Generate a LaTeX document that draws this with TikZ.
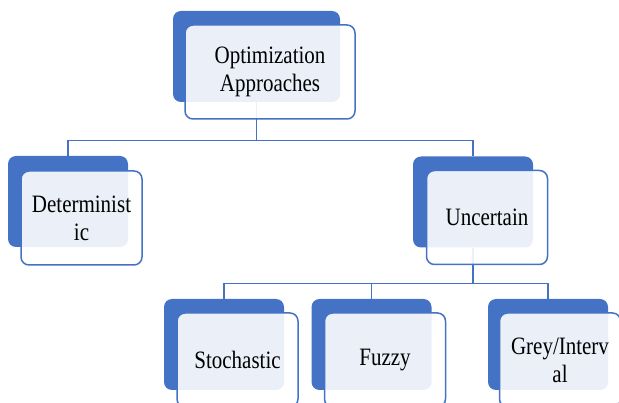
\documentclass[tikz,border=0pt]{standalone}
\usepackage{fontspec}
\setmainfont{Liberation Serif}[FakeStretch=0.84]
\begin{document}
\begin{tikzpicture}[x=1pt,y=1pt,yscale=-1,xscale=1,
	backbox/.style={draw=none,fill={rgb, 255:red, 68; green, 114; blue, 196 },rounded corners=8pt,minimum width=120pt,minimum height=91pt,inner sep=0pt},
	frontbox/.style={draw={rgb, 255:red, 68; green, 114; blue, 196 },line width=1.5,fill=white,fill opacity=0.89,text opacity=1,rounded corners=8pt,minimum width=121pt,minimum height=94pt,inner sep=0pt,align=center,font=\fontsize{25}{28}\selectfont},
	link/.style={draw={rgb, 255:red, 68; green, 114; blue, 196 },line width=1.2}]
	%uncomment if require: \path (0,403); %set diagram left start at 0, and has height of 403
	\useasboundingbox (0,0) rectangle (619,403);
	
	%Rounded Rect [back boxes] 
	\node [backbox,minimum width=167pt] (optB) at (256.5,56.5) {};
	\node [backbox] (detB) at (68,201.5) {};
	\node [backbox] (uncB) at (473,202) {};
	\node [backbox] (stoB) at (224,344.5) {};
	\node [backbox] (fuzB) at (371.5,344.5) {};
	\node [backbox] (greB) at (548,344.5) {};
	
	%Straight Lines [connectors] 
	\draw [link] (optB.south) -- ++(0,38) -| (detB.north) ;
	\draw [link] (optB.south) -- ++(0,38) -| (uncB.north) ;
	\draw [link] (uncB.south) -- ++(0,36) -| (stoB.north) ;
	\draw [link] (uncB.south) -- ++(0,36) -| (fuzB.north) ;
	\draw [link] (uncB.south) -- ++(0,36) -| (greB.north) ;
	
	%Rounded Rect [front boxes] 
	\node [frontbox,minimum width=170pt] (optF) at (270,72) {Optimization\\Approaches};
	\node [frontbox] (detF) at (81.5,218) {Determinist\\ic};
	\node [frontbox] (uncF) at (487,217.5) {Uncertain};
	\node [frontbox] (stoF) at (237.5,360) {Stochastic};
	\node [frontbox] (fuzF) at (385,360) {Fuzzy};
	\node [frontbox] (greF) at (560,360) {Grey/Interv\\al};
\end{tikzpicture}
\end{document}
